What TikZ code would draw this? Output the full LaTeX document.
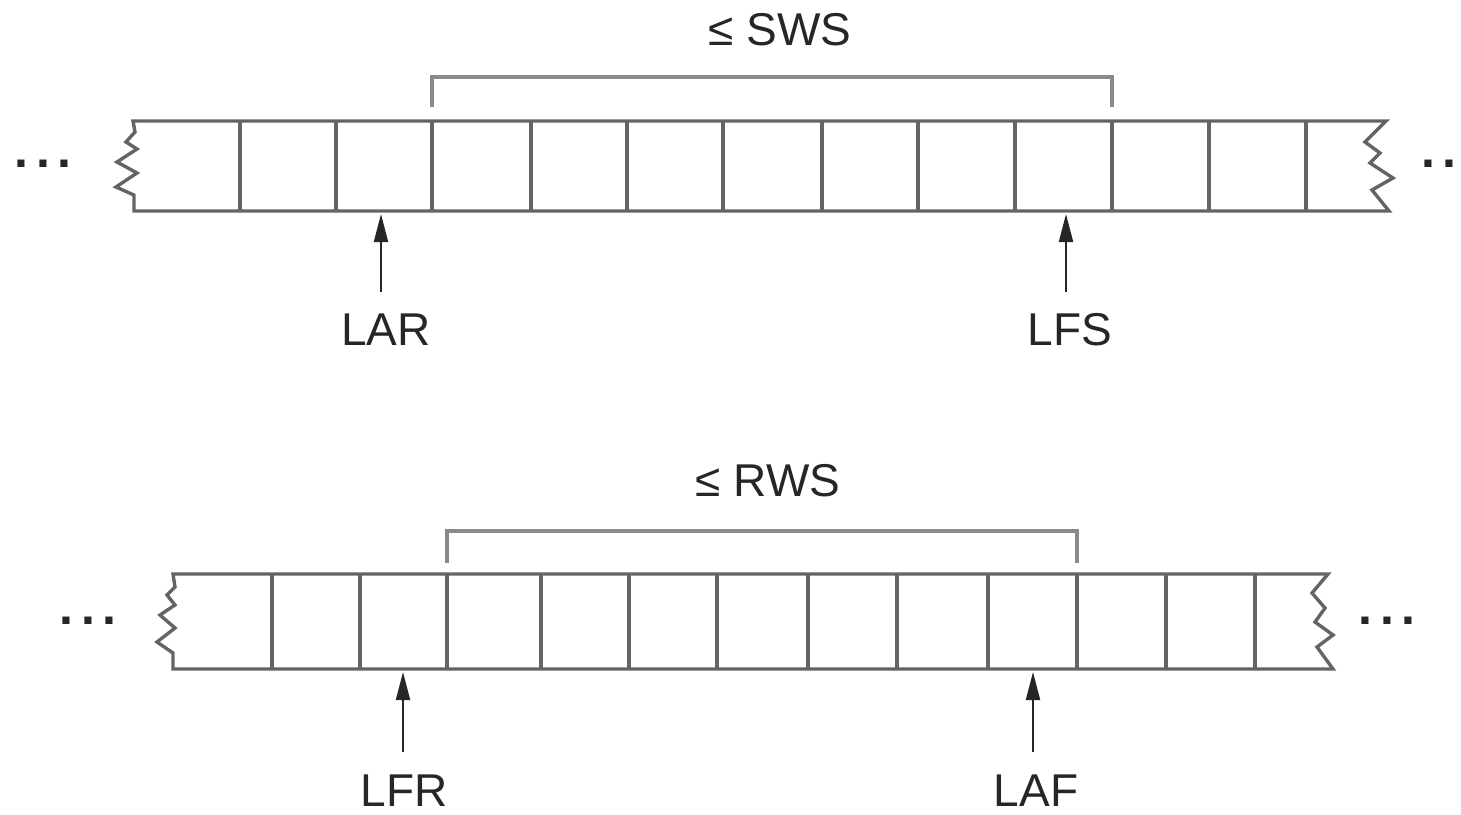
\documentclass[tikz,border=0pt]{standalone}
\usepackage{fontspec}
\setmainfont{Liberation Sans}
\usetikzlibrary{arrows.meta}
\definecolor{ln}{HTML}{646464}
\definecolor{lnl}{HTML}{8A8A8A}
\definecolor{tx}{HTML}{262626}
\tikzset{
  strip/.style={draw=ln,line width=1.7pt,line join=miter},
  cell/.style={draw=ln,line width=1.6pt},
  bracket/.style={draw=lnl,line width=1.8pt,line join=miter},
  arr/.style={draw=tx,line width=1pt,-{Triangle[length=14pt,width=7pt]}},
  lbl/.style={font=\fontsize{23}{23}\selectfont,text=tx,inner sep=0pt,anchor=base},
  dots/.style={font=\fontsize{25}{25}\selectfont\bfseries,text=tx,inner sep=0pt,anchor=base}
}
\newcommand{\mydots}{.\kern3.8pt.\kern3.8pt.}
\begin{document}
\begin{tikzpicture}[x=0.5pt,y=-0.5pt]
\useasboundingbox (0,0) rectangle (1461,814);

% ---------- top strip ----------
\draw[strip] (133,121) -- (1386,121)
  -- (1365,142) -- (1380,153) -- (1370,163) -- (1393,178) -- (1372,190) -- (1389,211)
  -- (134,211) -- (134,195) -- (116,187) -- (137,173) -- (117,162) -- (137,149) -- (126,142) -- (135,132) -- cycle;
\foreach \x in {240,336,432,531,627,723,822,918,1015,1112,1209,1306}
  \draw[cell] (\x,121) -- (\x,211);
\draw[bracket] (432,107) -- (432,77) -- (1112,77) -- (1112,107);
\node[lbl] (sws) at (780,45) {≤ SWS};

\node[dots] (dtl) at (43,167) {\mydots};
\node[dots] (dtr) at (1439,167) {.\kern3.8pt.};

\coordinate (larTip) at (381,214);
\coordinate (larTail) at (381,292);
\coordinate (lfsTip) at (1066,214);
\coordinate (lfsTail) at (1066,292);
\draw[arr] (larTail) -- (larTip);
\draw[arr] (lfsTail) -- (lfsTip);
\node[lbl] (lar) at (386,345) {LAR};
\node[lbl] (lfs) at (1070,345) {LFS};

% ---------- bottom strip ----------
\draw[strip] (173,574) -- (1328,574)
  -- (1312,593) -- (1325,608) -- (1315,622) -- (1333,635) -- (1317,647) -- (1333,669)
  -- (173,669) -- (173,653) -- (157,642) -- (175,628) -- (160,615) -- (175,605) -- (167,595) -- (175,587) -- cycle;
\foreach \x in {272,360,447,541,629,717,808,897,988,1077,1166,1255}
  \draw[cell] (\x,574) -- (\x,669);
\draw[bracket] (447,563) -- (447,531) -- (1077,531) -- (1077,563);
\node[lbl] (rws) at (768,496) {≤ RWS};

\node[dots] (dbl) at (88,624) {\mydots};
\node[dots] (dbr) at (1387,624) {\mydots};

\coordinate (lfrTip) at (403,672);
\coordinate (lfrTail) at (403,752);
\coordinate (lafTip) at (1033,672);
\coordinate (lafTail) at (1033,752);
\draw[arr] (lfrTail) -- (lfrTip);
\draw[arr] (lafTail) -- (lafTip);
\node[lbl] (lfr) at (404,806) {LFR};
\node[lbl] (laf) at (1036,806) {LAF};
\end{tikzpicture}
\end{document}
